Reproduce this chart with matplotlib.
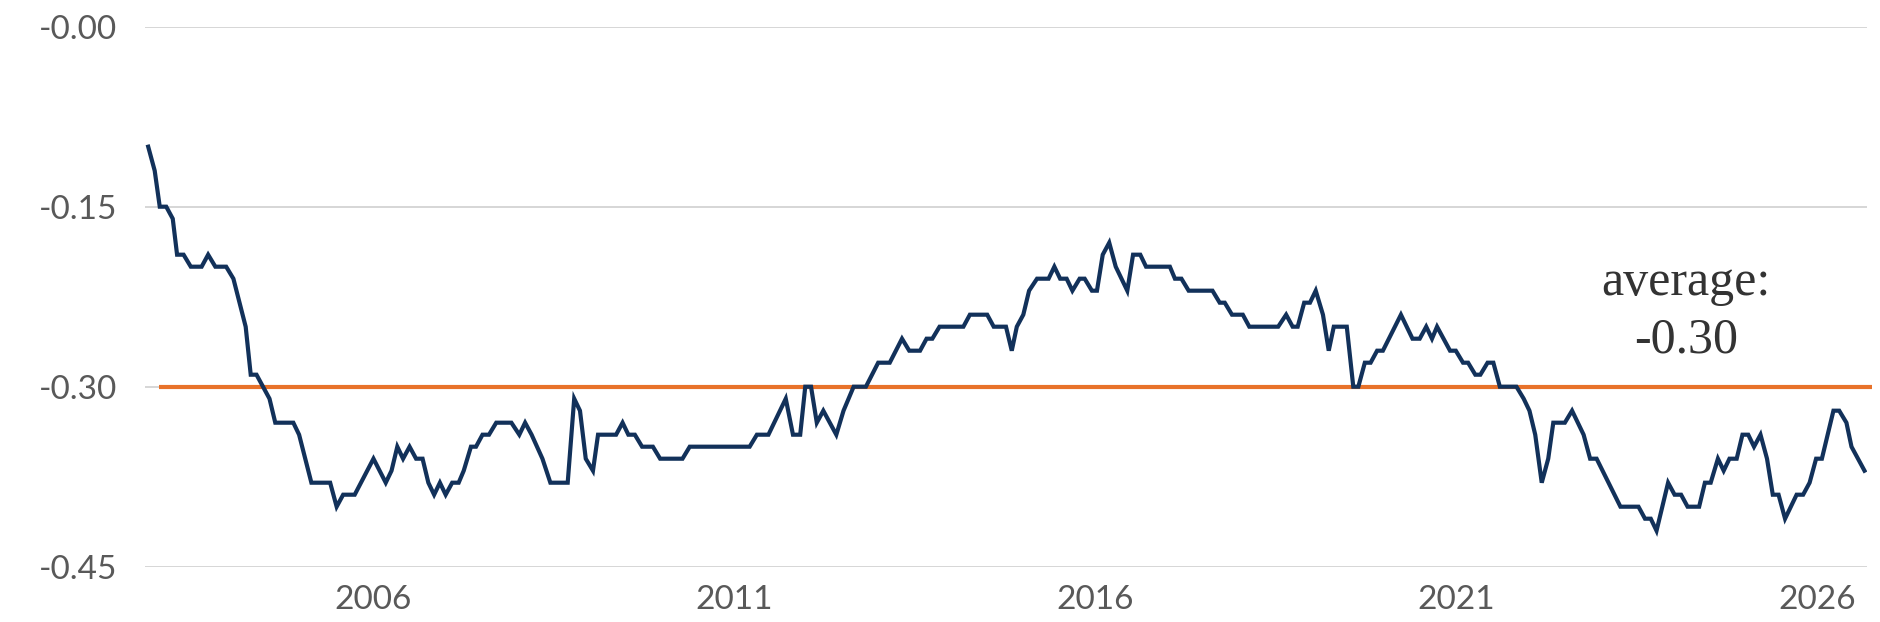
import matplotlib.pyplot as plt

# Series (decimal year, value)
years = [
    2002.88, 2002.97, 2003.04, 2003.13, 2003.22, 2003.28, 2003.37, 2003.47, 2003.62, 2003.71,
    2003.81, 2003.96, 2004.06, 2004.23, 2004.30, 2004.38, 2004.47, 2004.56, 2004.64, 2004.89,
    2004.97, 2005.14, 2005.40, 2005.49, 2005.58, 2005.74, 2006.00, 2006.17, 2006.25, 2006.33,
    2006.41, 2006.50, 2006.59, 2006.68, 2006.76, 2006.84, 2006.92, 2007.00, 2007.09, 2007.18,
    2007.25, 2007.35, 2007.42, 2007.51, 2007.60, 2007.70, 2007.91, 2008.02, 2008.10, 2008.19,
    2008.34, 2008.45, 2008.69, 2008.78, 2008.86, 2008.94, 2009.04, 2009.11, 2009.36, 2009.45,
    2009.53, 2009.62, 2009.72, 2009.87, 2009.97, 2010.28, 2010.38, 2011.21, 2011.31, 2011.47,
    2011.71, 2011.81, 2011.91, 2011.98, 2012.06, 2012.14, 2012.23, 2012.41, 2012.51, 2012.65,
    2012.82, 2012.99, 2013.15, 2013.32, 2013.42, 2013.57, 2013.66, 2013.74, 2013.84, 2014.17,
    2014.26, 2014.50, 2014.59, 2014.76, 2014.84, 2014.91, 2015.00, 2015.08, 2015.19, 2015.35,
    2015.43, 2015.51, 2015.60, 2015.68, 2015.78, 2015.85, 2015.95, 2016.02, 2016.10, 2016.19,
    2016.28, 2016.44, 2016.52, 2016.62, 2016.70, 2017.03, 2017.10, 2017.19, 2017.29, 2017.62,
    2017.72, 2017.79, 2017.89, 2018.04, 2018.13, 2018.53, 2018.64, 2018.73, 2018.80, 2018.89,
    2018.97, 2019.05, 2019.15, 2019.23, 2019.30, 2019.48, 2019.57, 2019.64, 2019.73, 2019.81,
    2019.90, 2019.98, 2020.23, 2020.39, 2020.49, 2020.58, 2020.66, 2020.73, 2020.91, 2020.99,
    2021.09, 2021.16, 2021.26, 2021.33, 2021.43, 2021.51, 2021.60, 2021.83, 2021.93, 2022.01,
    2022.09, 2022.18, 2022.27, 2022.34, 2022.50, 2022.60, 2022.76, 2022.85, 2022.94, 2023.27,
    2023.52, 2023.61, 2023.69, 2023.77, 2023.93, 2024.02, 2024.11, 2024.20, 2024.36, 2024.44,
    2024.52, 2024.62, 2024.70, 2024.78, 2024.88, 2024.96, 2025.04, 2025.12, 2025.21, 2025.30,
    2025.38, 2025.46, 2025.55, 2025.71, 2025.80, 2025.89, 2025.98, 2026.06, 2026.22, 2026.30,
    2026.40, 2026.47, 2026.65,
]
values = [
    -0.10, -0.12, -0.15, -0.15, -0.16, -0.19, -0.19, -0.20, -0.20, -0.19,
    -0.20, -0.20, -0.21, -0.25, -0.29, -0.29, -0.30, -0.31, -0.33, -0.33,
    -0.34, -0.38, -0.38, -0.40, -0.39, -0.39, -0.36, -0.38, -0.37, -0.35,
    -0.36, -0.35, -0.36, -0.36, -0.38, -0.39, -0.38, -0.39, -0.38, -0.38,
    -0.37, -0.35, -0.35, -0.34, -0.34, -0.33, -0.33, -0.34, -0.33, -0.34,
    -0.36, -0.38, -0.38, -0.31, -0.32, -0.36, -0.37, -0.34, -0.34, -0.33,
    -0.34, -0.34, -0.35, -0.35, -0.36, -0.36, -0.35, -0.35, -0.34, -0.34,
    -0.31, -0.34, -0.34, -0.30, -0.30, -0.33, -0.32, -0.34, -0.32, -0.30,
    -0.30, -0.28, -0.28, -0.26, -0.27, -0.27, -0.26, -0.26, -0.25, -0.25,
    -0.24, -0.24, -0.25, -0.25, -0.27, -0.25, -0.24, -0.22, -0.21, -0.21,
    -0.20, -0.21, -0.21, -0.22, -0.21, -0.21, -0.22, -0.22, -0.19, -0.18,
    -0.20, -0.22, -0.19, -0.19, -0.20, -0.20, -0.21, -0.21, -0.22, -0.22,
    -0.23, -0.23, -0.24, -0.24, -0.25, -0.25, -0.24, -0.25, -0.25, -0.23,
    -0.23, -0.22, -0.24, -0.27, -0.25, -0.25, -0.30, -0.30, -0.28, -0.28,
    -0.27, -0.27, -0.24, -0.26, -0.26, -0.25, -0.26, -0.25, -0.27, -0.27,
    -0.28, -0.28, -0.29, -0.29, -0.28, -0.28, -0.30, -0.30, -0.31, -0.32,
    -0.34, -0.38, -0.36, -0.33, -0.33, -0.32, -0.34, -0.36, -0.36, -0.40,
    -0.40, -0.41, -0.41, -0.42, -0.38, -0.39, -0.39, -0.40, -0.40, -0.38,
    -0.38, -0.36, -0.37, -0.36, -0.36, -0.34, -0.34, -0.35, -0.34, -0.36,
    -0.39, -0.39, -0.41, -0.39, -0.39, -0.38, -0.36, -0.36, -0.32, -0.32,
    -0.33, -0.35, -0.37,
]

average = -0.30
average_span = [2003.03, 2026.75]

y_ticks = [-0.45, -0.30, -0.15, 0.0]
y_labels = ['-0.45', '-0.30', '-0.15', '-0.00']
x_ticks = [2006, 2011, 2016, 2021, 2026]

navy = '#12315a'
orange = '#e8722a'
grid_grey = '#cccccc'
text_grey = '#595959'

fig = plt.figure(figsize=(18.8, 6.22), dpi=100)
ax = fig.add_axes([0.0771, 0.0889, 0.9158, 0.8682])

ax.plot(years, values, color=navy, linewidth=3.0, solid_joinstyle='miter', zorder=3)
ax.plot(average_span, [average, average], color=orange, linewidth=3.0,
        solid_capstyle='butt', clip_on=False, zorder=2)

ax.set_xlim(2002.835, 2026.68)
ax.set_ylim(-0.45, 0.0)

ax.set_yticks(y_ticks)
ax.set_yticklabels(y_labels)
ax.set_xticks(x_ticks)
ax.set_xticklabels([str(t) for t in x_ticks])

ax.grid(axis='y', color=grid_grey, linewidth=1.1)
ax.set_axisbelow(True)
for s in ax.spines.values():
    s.set_visible(False)

ax.tick_params(axis='both', length=0, labelsize=24, labelcolor=text_grey)
ax.tick_params(axis='y', pad=20)
ax.tick_params(axis='x', pad=13)
for lab in ax.get_xticklabels() + ax.get_yticklabels():
    lab.set_fontfamily('Lato')

# annotation for the average line
ax.text(2024.18, -0.2236, 'average:', ha='center', va='baseline',
        fontsize=36, family='Liberation Serif', color='#333333')
ax.text(2024.18, -0.2714, '-0.30', ha='center', va='baseline',
        fontsize=36, family='Liberation Serif', color='#333333')

plt.savefig('out.png', dpi=100)
